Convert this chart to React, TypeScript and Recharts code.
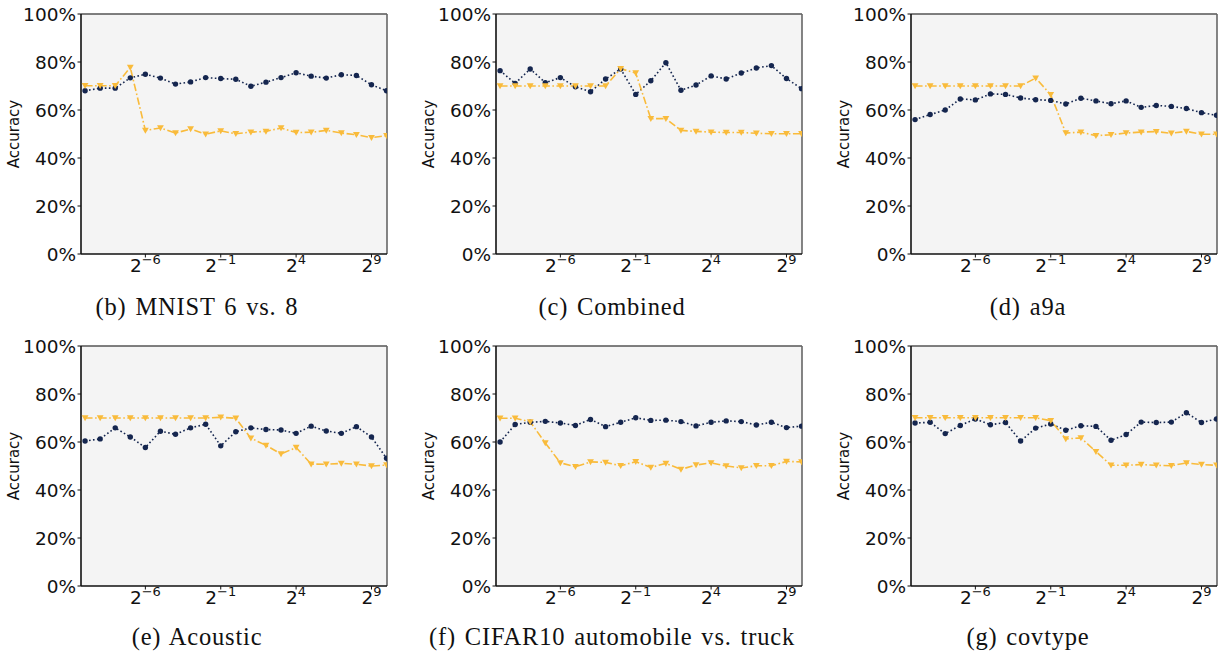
import React from 'react';
import { LineChart, Line, XAxis, YAxis, CartesianGrid, ReferenceLine } from 'recharts';

// x positions: exponent k of 2^k
const exponents = [-10, -9, -8, -7, -6, -5, -4, -3, -2, -1, 0, 1, 2, 3, 4, 5, 6, 7, 8, 9, 10];
const xTicks = [-6, -1, 4, 9];
const yTicks = [0, 20, 40, 60, 80, 100];

const mnistNavy = [68.0, 69.1, 69.1, 73.4, 74.9, 73.3, 70.8, 71.7, 73.5, 73.1, 72.8, 69.9, 71.6, 73.5, 75.5, 74.1, 73.3, 74.7, 74.4, 70.5, 68.0];
const mnistGold = [70.1, 70.1, 70.1, 77.7, 51.5, 52.5, 50.4, 52.1, 49.9, 51.3, 50.1, 50.8, 51.1, 52.5, 50.6, 50.7, 51.5, 50.4, 49.7, 48.5, 49.3];

const combinedNavy = [76.4, 71.1, 77.1, 71.4, 73.5, 69.7, 67.6, 72.9, 77.1, 66.5, 72.2, 79.7, 68.2, 70.4, 74.2, 72.9, 75.4, 77.5, 78.5, 73.1, 68.9];
const combinedGold = [70.0, 70.0, 70.0, 70.0, 70.0, 70.0, 70.0, 70.0, 77.2, 75.4, 56.4, 56.4, 51.5, 51.1, 50.8, 50.6, 50.6, 50.3, 50.1, 50.1, 50.1];

const a9aNavy = [56.0, 58.1, 60.0, 64.6, 64.2, 66.7, 66.5, 65.0, 64.3, 64.0, 62.5, 64.9, 63.8, 62.6, 63.8, 61.1, 61.9, 61.5, 60.6, 58.9, 57.8];
const a9aGold = [70.0, 70.0, 70.0, 70.0, 70.0, 70.0, 70.0, 70.0, 73.3, 66.4, 50.4, 50.8, 49.3, 49.7, 50.4, 50.8, 51.0, 50.3, 51.1, 49.9, 49.9];

const acousticNavy = [60.4, 61.3, 65.9, 62.1, 57.7, 64.5, 63.2, 65.9, 67.4, 58.4, 64.3, 65.9, 65.2, 65.0, 63.6, 66.6, 64.6, 63.6, 66.4, 62.1, 53.2];
const acousticGold = [70.0, 70.0, 70.0, 70.0, 70.0, 70.0, 70.0, 70.0, 70.0, 70.3, 69.9, 61.6, 58.6, 55.0, 57.7, 50.8, 50.7, 51.1, 50.7, 50.0, 50.4];

const cifarNavy = [60.0, 67.3, 68.2, 68.6, 67.9, 66.9, 69.4, 66.4, 68.2, 70.1, 69.0, 69.1, 68.5, 66.7, 68.2, 68.8, 68.5, 67.1, 68.2, 66.0, 66.6];
const cifarGold = [69.9, 69.9, 68.4, 59.6, 51.3, 49.7, 51.7, 51.5, 50.1, 51.8, 49.4, 51.1, 48.6, 50.4, 51.3, 50.0, 49.2, 50.1, 50.1, 51.9, 51.7];

const covtypeNavy = [67.9, 68.2, 63.5, 66.9, 69.6, 67.2, 68.1, 60.4, 65.8, 67.5, 64.9, 66.8, 66.5, 60.7, 63.1, 68.3, 68.1, 68.3, 72.2, 68.1, 69.6];
const covtypeGold = [70.1, 70.1, 70.1, 70.1, 70.1, 70.1, 70.1, 70.1, 70.1, 68.9, 61.3, 61.7, 56.0, 50.3, 50.3, 50.6, 50.3, 50.1, 51.3, 50.6, 50.3];

const captions = ['(b) MNIST 6 vs. 8', '(c) Combined', '(d) a9a', '(e) Acoustic', '(f) CIFAR10 automobile vs. truck', '(g) covtype'];

const NAVY = '#15264f';
const GOLD = '#f9bb3b';
const X_MIN = -10.27;
const X_MAX = 10.03;

const CHART_W = 398;
const CHART_H = 290;
const Y_AXIS_W = 80;
const X_AXIS_H = 40;
const M_TOP = 10;
const M_RIGHT = 12;

const PowTick = (props: any) => {
  const { x, y, payload } = props;
  const k = payload.value as number;
  const exp = k < 0 ? '\u2212' + Math.abs(k) : String(k);
  return (
    <text x={x} y={y + 12} textAnchor="middle" fontFamily="DejaVu Sans" fontSize={18.5} fill="#111">
      <tspan>2</tspan>
      <tspan dy={-7.5} fontSize={13}>{exp}</tspan>
    </text>
  );
};

const NavyDot = (props: any) => {
  const { cx, cy, index } = props;
  if (cx == null || cy == null) return <g key={`n${index}`} />;
  return <circle key={`n${index}`} cx={cx} cy={cy} r={2.7} fill={NAVY} stroke="none" />;
};

const GoldDot = (props: any) => {
  const { cx, cy, index } = props;
  if (cx == null || cy == null) return <g key={`g${index}`} />;
  const d = `M${cx - 3.4},${cy - 2.7} L${cx + 3.4},${cy - 2.7} L${cx},${cy + 3.3} Z`;
  return <path key={`g${index}`} d={d} fill={GOLD} stroke="none" />;
};

const AccuracyLabel = (props: any) => {
  const vb = props.viewBox || { x: 0, y: M_TOP, width: Y_AXIS_W, height: 240 };
  const cx = vb.x + 13;
  const cy = vb.y + vb.height / 2;
  return (
    <text
      x={cx}
      y={cy}
      transform={`rotate(-90, ${cx}, ${cy})`}
      textAnchor="middle"
      dominantBaseline="central"
      fontFamily="DejaVu Sans"
      fontSize={15}
      fill="#111"
    >
      Accuracy
    </text>
  );
};

type PanelProps = { plotLeft: number; plotTop: number; navy: number[]; gold: number[] };

const Panel = ({ plotLeft, plotTop, navy, gold }: PanelProps) => {
  const data = exponents.map((k, i) => ({ k, navy: navy[i], gold: gold[i] }));
  return (
    <div style={{ position: 'absolute', left: plotLeft - Y_AXIS_W, top: plotTop - M_TOP }}>
      <LineChart
        width={CHART_W}
        height={CHART_H}
        data={data}
        margin={{ top: M_TOP, right: M_RIGHT, bottom: 0, left: 0 }}
      >
        <CartesianGrid fill="#f4f4f4" horizontal={false} vertical={false} />
        <XAxis
          dataKey="k"
          type="number"
          domain={[X_MIN, X_MAX]}
          allowDataOverflow
          ticks={xTicks}
          tick={<PowTick />}
          height={X_AXIS_H}
          tickSize={3.5}
          tickMargin={2}
          axisLine={{ stroke: '#111', strokeWidth: 1.6 }}
          tickLine={{ stroke: '#111', strokeWidth: 1 }}
          interval={0}
        />
        <YAxis
          type="number"
          domain={[0, 100]}
          ticks={yTicks}
          width={Y_AXIS_W}
          tickSize={3.5}
          tickMargin={1.5}
          tickFormatter={(v: number) => `${v}%`}
          tick={{ fontFamily: 'DejaVu Sans', fontSize: 18.5, fill: '#111' }}
          axisLine={{ stroke: '#111', strokeWidth: 1.6 }}
          tickLine={{ stroke: '#111', strokeWidth: 1 }}
          interval={0}
          label={{ content: <AccuracyLabel /> }}
        />
        <ReferenceLine y={100} stroke="#555" strokeWidth={1.6} ifOverflow="visible" />
        <ReferenceLine x={X_MAX} stroke="#666" strokeWidth={1.6} ifOverflow="visible" />
        <Line
          dataKey="navy"
          stroke={NAVY}
          strokeWidth={1.6}
          strokeDasharray="1.6 2.4"
          dot={NavyDot}
          activeDot={false}
          isAnimationActive={false}
        />
        <Line
          dataKey="gold"
          stroke={GOLD}
          strokeWidth={1.6}
          strokeDasharray="7.5 2.5 1.6 2.5"
          dot={GoldDot}
          activeDot={false}
          isAnimationActive={false}
        />
      </LineChart>
    </div>
  );
};

const plotLefts = [81, 496, 911];
const plotTops = [14, 346];
const captionCenters = [197, 612, 1028];
const captionBaselines = [315, 645];

const series = [
  [mnistNavy, mnistGold],
  [combinedNavy, combinedGold],
  [a9aNavy, a9aGold],
  [acousticNavy, acousticGold],
  [cifarNavy, cifarGold],
  [covtypeNavy, covtypeGold],
];

export default function App() {
  return (
    <div style={{ position: 'absolute', left: 0, top: 0, width: 1225, height: 656, background: '#fff', overflow: 'hidden' }}>
      {series.map(([n, g], i) => (
        <Panel key={i} plotLeft={plotLefts[i % 3]} plotTop={plotTops[Math.floor(i / 3)]} navy={n} gold={g} />
      ))}
      <svg width={1225} height={656} style={{ position: 'absolute', left: 0, top: 0, pointerEvents: 'none' }}>
        {captions.map((c, i) => (
          <text
            key={c}
            x={captionCenters[i % 3]}
            y={captionBaselines[Math.floor(i / 3)]}
            textAnchor="middle"
            fontFamily="Liberation Serif"
            fontSize={24.5}
            letterSpacing={0.8}
            wordSpacing={2}
            fill="#111"
          >
            {c}
          </text>
        ))}
      </svg>
    </div>
  );
}
